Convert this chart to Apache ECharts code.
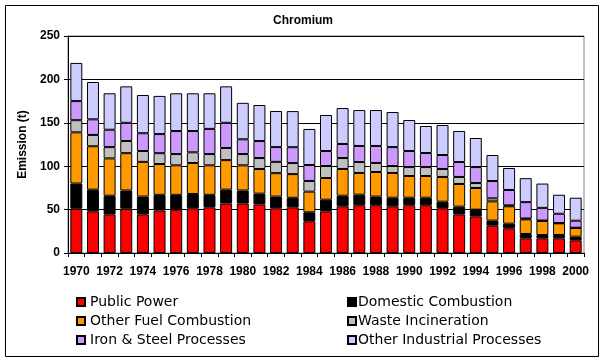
<!DOCTYPE html>
<html><head><meta charset="utf-8">
<script src="https://cdn.jsdelivr.net/npm/echarts@6/dist/echarts.min.js"></script>
<style>html,body{margin:0;padding:0;background:#fff}#c{width:606px;height:364px}</style>
</head><body><div id="c"></div>
<script>
const years = ['1970','1971','1972','1973','1974','1975','1976','1977','1978','1979','1980','1981','1982','1983','1984','1985','1986','1987','1988','1989','1990','1991','1992','1993','1994','1995','1996','1997','1998','1999','2000'];
const publicPower = [51,48,44.5,51,44.5,49,50,51.5,52.6,57,57,56,51.5,52.6,36.5,48,53.8,55,55,53.8,55,55,51.5,44.5,42.2,31.5,28.4,16.9,16.9,16.9,14.6];
const domesticComb = [29,25,21.5,21,20.5,18,17,16.5,14.4,16,15,12.4,13.5,11,10.4,13.4,12.2,12.2,10,9.9,8.7,8.7,7.6,8.9,7.7,5.8,5.4,5,3.8,3.8,4.2];
const otherFuel = [59,50,43,43,40,35.5,34,35.7,34,34,29,28.4,27,27.3,23.8,25,30.8,25,28.3,28.5,25,25,28.5,26.1,25,22.2,20,16.9,16.2,13.5,10];
const wasteInc = [14,13,13,14,12.5,12.5,13,12.3,13,14,13,12.6,13,12.7,12.3,13.8,12.6,12.6,10.4,8,10.3,10.3,9.2,8.1,5.7,3.5,1.1,1,0.5,0.3,0.3];
const ironSteel = [22,18,20,21,20.5,22,26.5,24.5,29,29,17,19.6,17,18.3,18.4,17.3,16.2,18.5,19.6,21.8,18.5,16.2,16.1,17.2,18.4,19.9,17.7,18.8,14.6,10.7,8.1];
const otherInd = [44,43,42,42,44,44,43.5,43.5,41,42,42,41.5,41.6,41.6,41.5,41.5,41.4,41.4,41.4,40.4,35.7,31.1,34.6,35.8,33.5,30,25.3,27.6,28,21.9,26.5];
const yTicks = [0,50,100,150,200,250];

const names = ['Public Power','Domestic Combustion','Other Fuel Combustion','Waste Incineration','Iron & Steel Processes','Other Industrial Processes'];
const colors = ['#FF0000','#000000','#FF9900','#C0C0C0','#CC99FF','#CCCCFF'];
const datas = [publicPower, domesticComb, otherFuel, wasteInc, ironSteel, otherInd];
const FONT = 'Liberation Sans, Arial, sans-serif';

const legendPos = [[76,295],[347,295],[76,314],[347,314],[76,333],[347,333]];
const legends = names.map((n,i)=>({
  data:[n], left:legendPos[i][0], top:legendPos[i][1], padding:0,
  icon:'rect', itemWidth:8, itemHeight:8, selectedMode:false,
  textStyle:{fontFamily:'DejaVu Sans', fontSize:14, color:'#000', padding:[0,0,0, i%2 ? -3 : 0]}
}));

const chart = echarts.init(document.getElementById('c'), null, {renderer:'canvas'});
chart.setOption({
  animation:false,
  backgroundColor:'#fff',
  title:{text:'Chromium', left:'center', top:10, textStyle:{fontFamily:FONT, fontSize:12, fontWeight:'bold', color:'#000'}},
  graphic:[{type:'rect', shape:{x:5.5,y:5.5,width:593,height:351}, style:{fill:null, stroke:'#000', lineWidth:1}, silent:true, z:-1}],
  grid:{left:68, right:22, top:36, bottom:111, show:true, borderColor:'#808080', borderWidth:1, backgroundColor:'#fff'},
  legend:legends,
  xAxis:{type:'category', data:years, boundaryGap:true,
    axisLine:{lineStyle:{color:'#000', width:1}},
    axisTick:{show:true, interval:0, length:4, lineStyle:{color:'#000'}},
    axisLabel:{interval:1, fontFamily:FONT, fontSize:12, fontWeight:'bold', color:'#000', margin:13},
    splitLine:{show:false}},
  yAxis:{type:'value', min:yTicks[0], max:yTicks[yTicks.length-1], interval:50,
    name:'Emission (t)', nameLocation:'middle', nameGap:38, nameRotate:90,
    nameTextStyle:{fontFamily:FONT, fontSize:12, fontWeight:'bold', color:'#000'},
    axisLine:{show:true, lineStyle:{color:'#000'}},
    axisTick:{show:true, length:4, lineStyle:{color:'#000'}},
    axisLabel:{fontFamily:FONT, fontSize:12, fontWeight:'bold', color:'#000', margin:8},
    splitLine:{show:true, lineStyle:{color:'#000', width:1}}},
  series: names.map((n,i)=>({
    name:n, type:'bar', stack:'total', data:datas[i], barCategoryGap:'28%',
    itemStyle:{color:colors[i], borderColor:'#000', borderWidth:1},
    emphasis:{disabled:true}
  }))
});
</script></body></html>
